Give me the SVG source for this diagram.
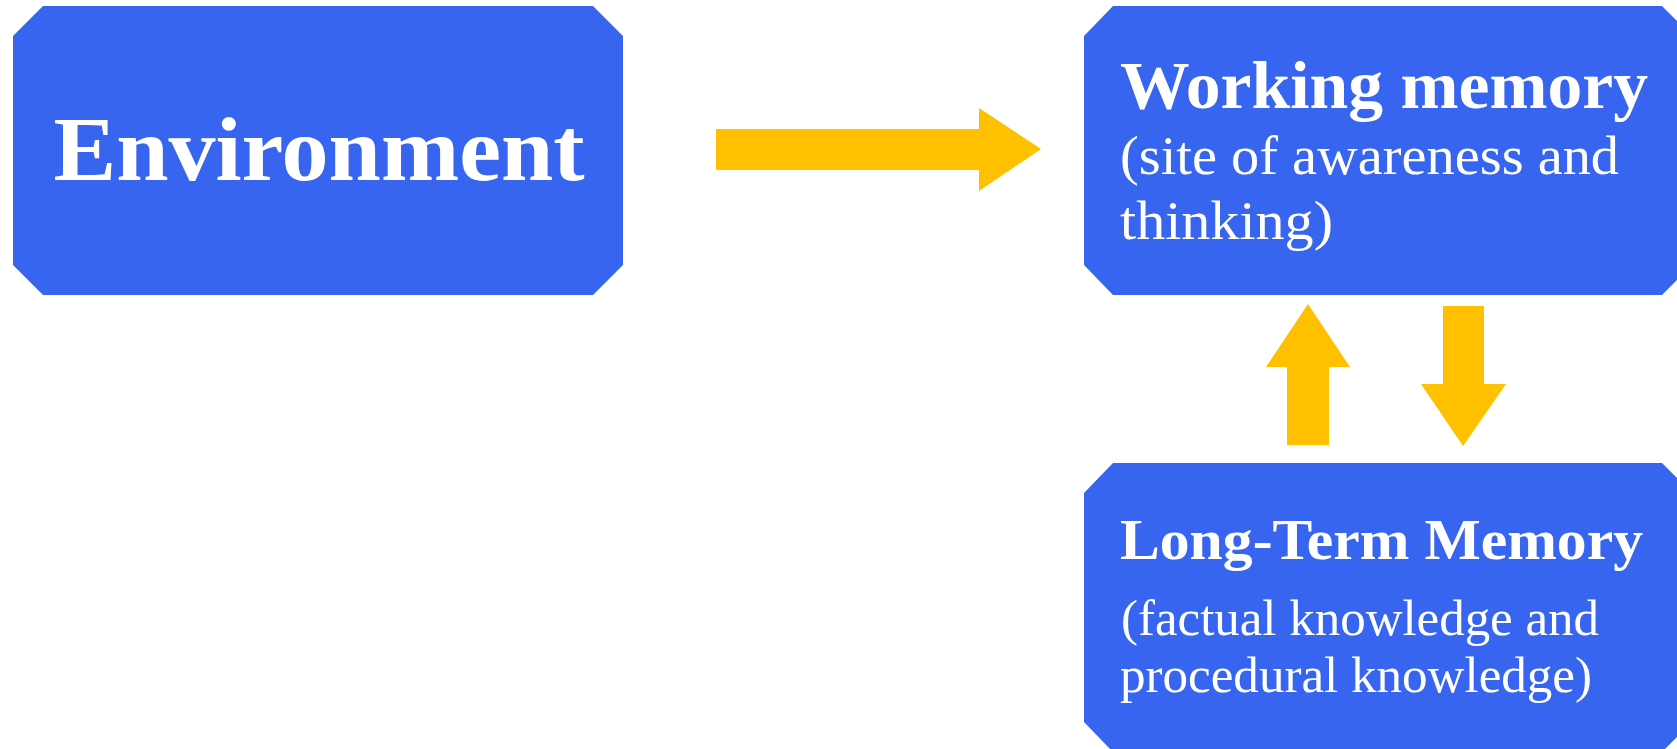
<svg xmlns="http://www.w3.org/2000/svg" width="1677" height="749" viewBox="0 0 1677 749">
<style>
.box{fill:#3865EF;}
.arrow{fill:#FFC000;}
.t{font-family:"Liberation Serif","Times New Roman",serif;fill:#FFFFFF;}
.b{font-weight:bold;}
</style>
<rect width="1677" height="749" fill="#FFFFFF"/>
<g id="environment">
<polygon class="box" points="43,6 593,6 623,36 623,265 593,295 43,295 13,265 13,36"/>
<text class="t b" x="319" y="180" font-size="90" text-anchor="middle" textLength="531" lengthAdjust="spacingAndGlyphs">Environment</text>
</g>
<g id="working-memory">
<polygon class="box" points="1113,6 1662,6 1692,36 1692,265 1662,295 1113,295 1084,265 1084,36"/>
<text class="t b" x="1120" y="108" font-size="67" textLength="528" lengthAdjust="spacingAndGlyphs">Working memory</text>
<text class="t" x="1120" y="174" font-size="55" textLength="499" lengthAdjust="spacingAndGlyphs">(site of awareness and</text>
<text class="t" x="1120" y="239" font-size="55" textLength="213" lengthAdjust="spacingAndGlyphs">thinking)</text>
</g>
<g id="long-term-memory">
<polygon class="box" points="1113,463 1662,463 1692,493 1692,722 1662,752 1113,752 1084,722 1084,493"/>
<text class="t b" x="1120" y="559" font-size="58" textLength="523" lengthAdjust="spacingAndGlyphs">Long-Term Memory</text>
<text class="t" x="1121" y="635" font-size="51" textLength="478" lengthAdjust="spacingAndGlyphs">(factual knowledge and</text>
<text class="t" x="1120" y="692" font-size="51" textLength="472" lengthAdjust="spacingAndGlyphs">procedural knowledge)</text>
</g>
<g id="connectors">
<polygon class="arrow" points="716,129 979,129 979,108 1041,149 979,191 979,170 716,170"/>
<polygon class="arrow" points="1308,304 1350,367 1329,367 1329,445 1287,445 1287,367 1266,367"/>
<polygon class="arrow" points="1443,306 1484,306 1484,384 1506,384 1463,446 1421,384 1443,384"/>
</g>
</svg>
